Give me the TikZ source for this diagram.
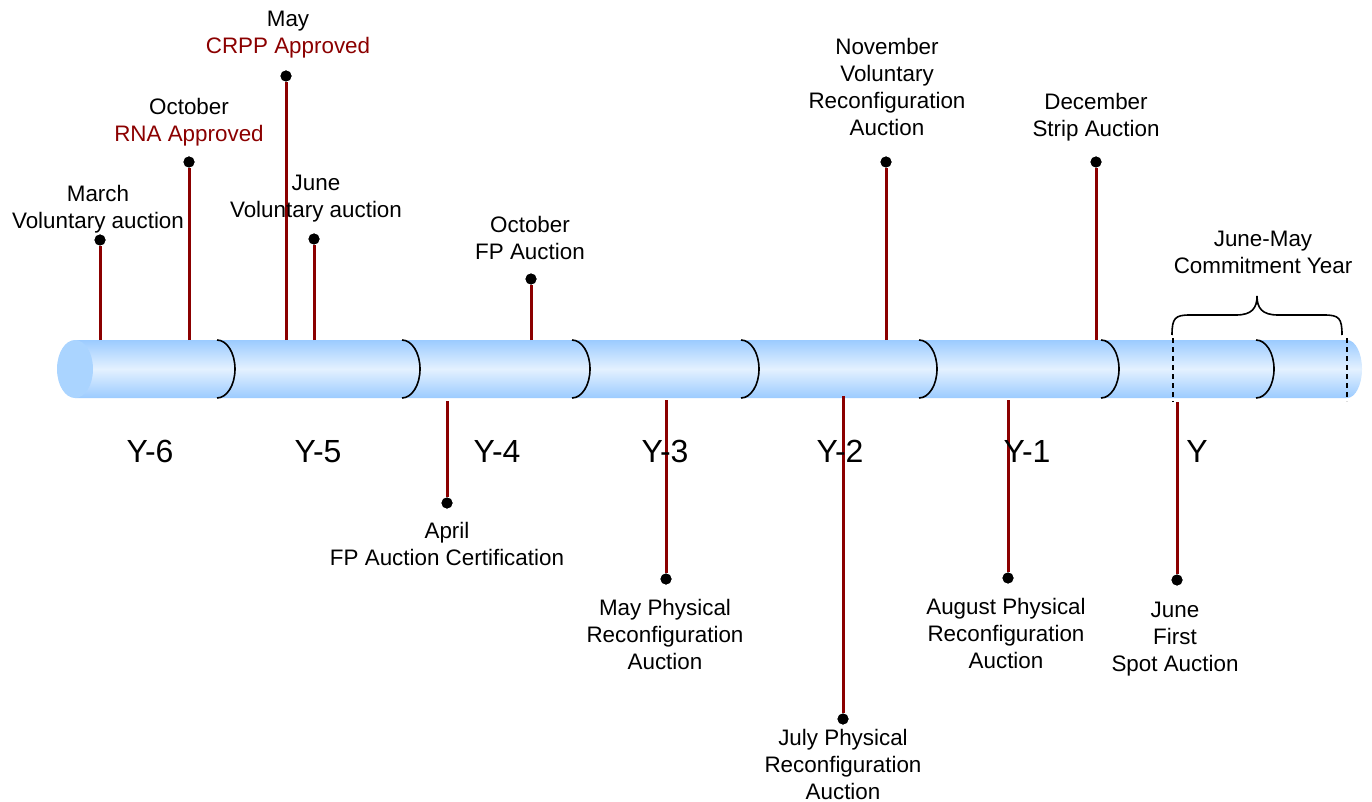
\documentclass[tikz,border=0pt]{standalone}
\usepackage{fontspec}
\setmainfont{Liberation Sans}
\definecolor{stemred}{RGB}{139,0,0}
\definecolor{pipeedge}{RGB}{155,203,255}
\definecolor{pipemid}{RGB}{228,241,255}
\definecolor{pipeend}{RGB}{170,212,255}
\begin{document}
\begin{tikzpicture}[x=1pt,y=-1pt,
  stem/.style={draw=stemred, line width=3pt},
  dot/.style={circle, fill=black, inner sep=0pt, minimum size=11pt},
  lbl/.style={align=center, font=\fontsize{22.4}{27}\selectfont, inner sep=0pt, anchor=base},
  yr/.style={font=\fontsize{32}{38}\selectfont, inner sep=0pt, anchor=base},
  divider/.style={draw=black, line width=1.6pt},
  cut/.style={draw=black, line width=1.4pt, dashed, dash pattern=on 5pt off 4pt},
  brc/.style={draw=black, line width=1.6pt}]
\useasboundingbox (0,0) rectangle (1372,802);
% pipe body
\shade[top color=pipeedge, bottom color=pipeedge, middle color=pipemid]
  (75,340) -- (1347,340) arc[start angle=90, end angle=-90, x radius=15pt, y radius=29pt] -- (75,398) -- cycle;
\fill[pipeend] (75,369) ellipse[x radius=18pt, y radius=29pt];
% dividers
\foreach \x in {217,402,572,741,919,1101,1256}
  \draw[divider] (\x,340) arc[start angle=90, end angle=-90, x radius=18pt, y radius=29pt];
\coordinate (c1t) at (1173,338); \coordinate (c1b) at (1173,402);
\coordinate (c2t) at (1347,338); \coordinate (c2b) at (1347,401);
\draw[cut] (c1t) -- (c1b);
\draw[cut] (c2t) -- (c2b);
% brace
\coordinate (brL) at (1172,335); \coordinate (brT) at (1257,296); \coordinate (brR) at (1342,335);
\draw[brc] (brL) .. controls (1172,318) and (1175,315) .. (1190,315) -- (1236,315)
  .. controls (1252,315) and (1257,308) .. (brT)
  .. controls (1257,308) and (1262,315) .. (1278,315) -- (1324,315)
  .. controls (1339,315) and (1342,318) .. (brR);
\node[lbl] (cy) at (1263,273) {June-May\\Commitment Year};
% stems above
\foreach \n/\x/\y in {a1/100/240, a2/189/162, a3/286/76, a4/314/239, a5/531/279, a6/886/162, a7/1096/162}{
  \coordinate (\n b) at (\x,340);
  \node[dot] (\n) at (\x,\y) {};
  \draw[stem] (\n b) -- (\n);
  \node[dot] at (\n) {};
}
% stems below
\foreach \n/\x/\s/\y in {b1/447/401/503, b2/666/400/579, b3/843/396/719, b4/1008/400/578, b5/1177/402/580}{
  \coordinate (\n t) at (\x,\s);
  \node[dot] (\n) at (\x,\y) {};
  \draw[stem] (\n t) -- (\n);
  \node[dot] at (\n) {};
}
% labels above (anchor = baseline of last line)
\node[lbl] (la1) at (98,229) {March\\Voluntary auction};
\node[lbl] (la2) at (189,142) {October\\{\color{stemred}RNA Approved}};
\node[lbl] (la3) at (288,54) {May\\{\color{stemred}CRPP Approved}};
\node[lbl] (la4) at (316,218) {June\\Voluntary auction};
\node[lbl] (la5) at (530,259) {October\\FP Auction};
\node[lbl] (la6) at (887,136) {November\\Voluntary\\Reconfiguration\\Auction};
\node[lbl] (la7) at (1096,137) {December\\Strip Auction};
% labels below
\node[lbl] (lb1) at (447,565) {April\\FP Auction Certification};
\node[lbl] (lb2) at (665,669) {May Physical\\Reconfiguration\\Auction};
\node[lbl] (lb3) at (843,799) {July Physical\\Reconfiguration\\Auction};
\node[lbl] (lb4) at (1006,668) {August Physical\\Reconfiguration\\Auction};
\node[lbl] (lb5) at (1175,671) {June\\First\\Spot Auction};
% years
\node[yr] (y6) at (150,462) {Y-6};
\node[yr] (y5) at (318,462) {Y-5};
\node[yr] (y4) at (497,462) {Y-4};
\node[yr] (y3) at (665,462) {Y-3};
\node[yr] (y2) at (840,462) {Y-2};
\node[yr] (y1) at (1027,462) {Y-1};
\node[yr] (y0) at (1197,462) {Y};
\end{tikzpicture}
\end{document}
